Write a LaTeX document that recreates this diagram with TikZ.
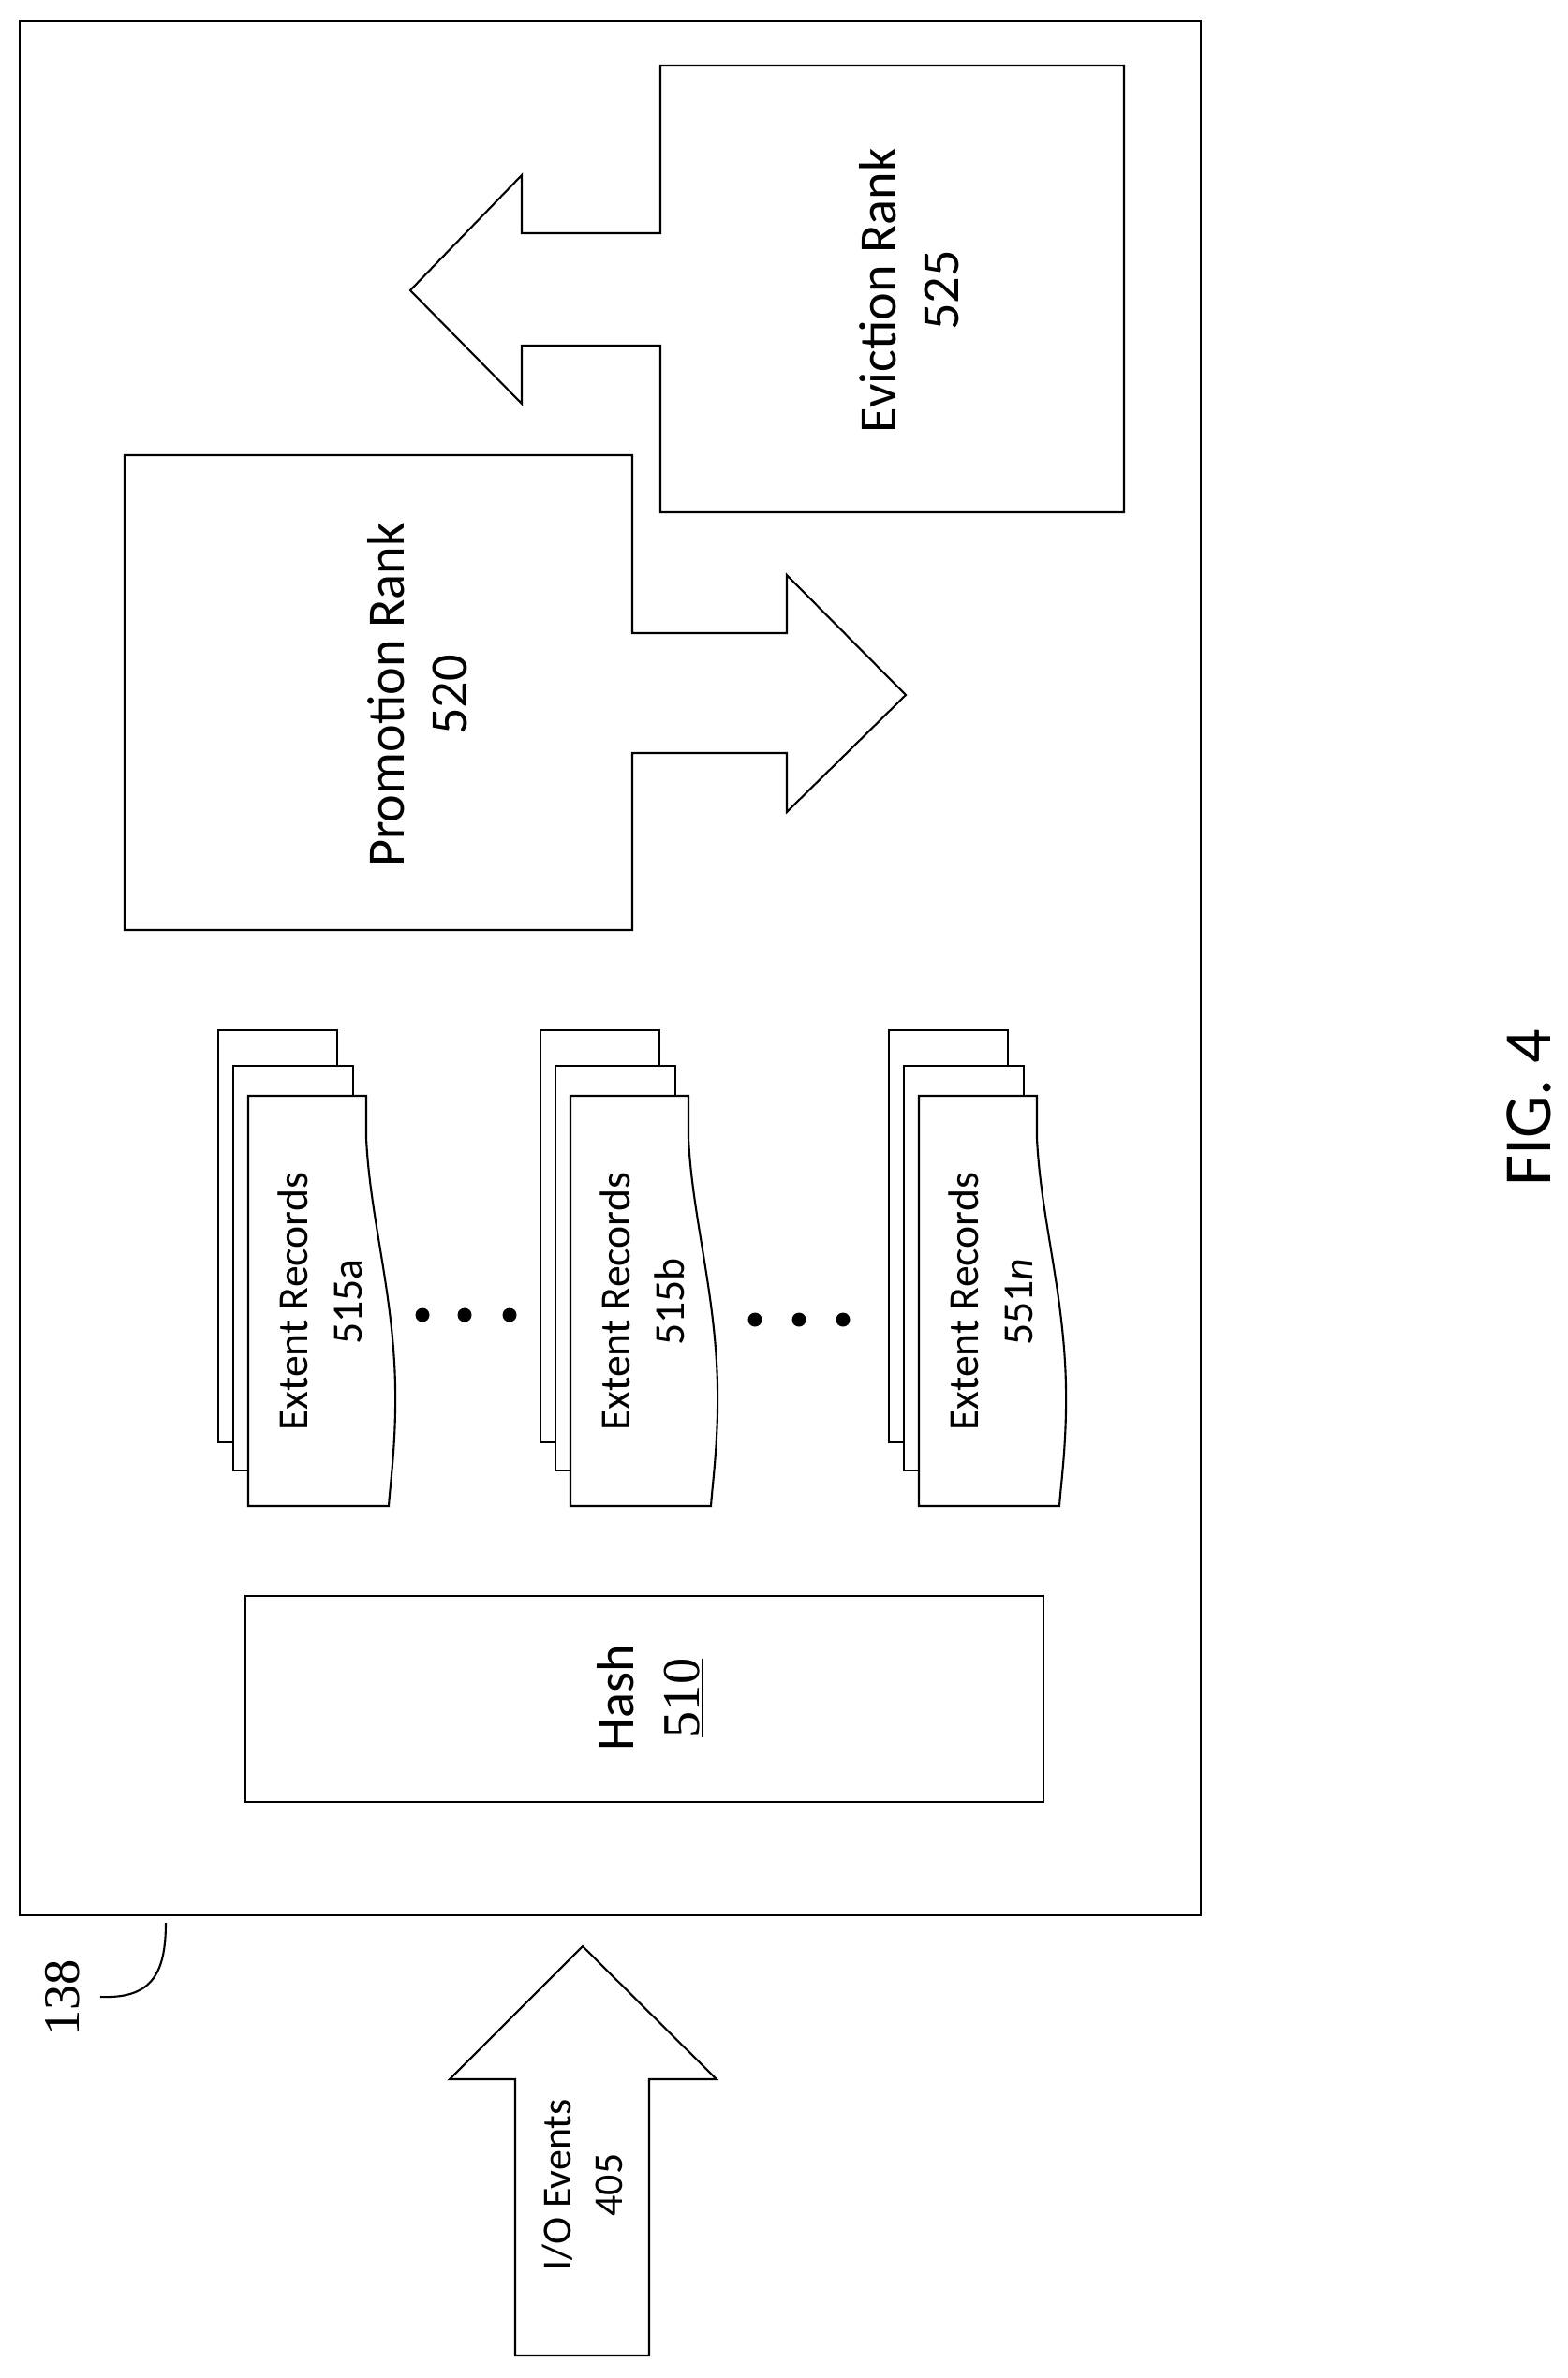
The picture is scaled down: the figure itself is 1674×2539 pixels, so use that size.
\documentclass[tikz,border=0pt]{standalone}
\usepackage{fontspec}
\setmainfont{Carlito}
\newfontfamily\serifnum{Liberation Serif}
\begin{document}
\begin{tikzpicture}[x=0.2mm,y=-0.2mm,
  ln/.style={draw=black,line width=1.2pt,fill=white,line join=miter},
  lbl/.style={rotate=90,align=center,inner sep=0pt},
  pics/stack/.style={code={
    \draw[ln] (-32,-70) rectangle (95,370);
    \draw[ln] (-16,-32) rectangle (112,400);
    \draw[ln] (0,0) -- (126,0) -- (126,45) .. controls (130,130) and (155,210) .. (157,310)
       .. controls (158,370) and (152,410) .. (150,438) -- (0,438) -- cycle;
  }}]
\useasboundingbox (0,0) rectangle (1674,2539);
% outer box
\draw[line width=1.1pt] (21,22) rectangle (1282,2045);
% eviction
\draw[ln] (705,70) -- (1200,70) -- (1200,547) -- (705,547) -- (705,369) -- (557,369) -- (557,431)
  -- (438,310) -- (557,187) -- (557,249) -- (705,249) -- cycle;
\node[lbl,font=\fontsize{32}{38}\selectfont] (evict) at (971,310) {Eviction Rank\\525};
% promotion
\draw[ln] (133,486) -- (675,486) -- (675,676) -- (840,676) -- (840,614) -- (967,742)
  -- (840,867) -- (840,804) -- (675,804) -- (675,993) -- (133,993) -- cycle;
\node[lbl,font=\fontsize{32}{38}\selectfont] (promo) at (446,742) {Promotion Rank\\520};
% stacks
\pic (s1) at (265,1170) {stack};
\pic (s2) at (609,1170) {stack};
\pic (s3) at (981,1170) {stack};
\node[lbl,font=\fontsize{26}{33}\selectfont] (t1) at (342,1390) {Extent Records\\515a};
\node[lbl,font=\fontsize{26}{33}\selectfont] (t2) at (686,1390) {Extent Records\\515b};
\node[lbl,font=\fontsize{26}{33}\selectfont] (t3) at (1058,1390) {Extent Records\\551\textit{n}};
\foreach \x/\yy in {451/1404,496/1404,544/1404,806/1409,853/1409,900/1409}
  \fill (\x,\yy) circle (7.5);
% hash
\draw[ln] (262,1704) rectangle (1114,1924);
\node[lbl,font=\fontsize{32}{40}\selectfont] (hash) at (694,1813) {Hash\\{\serifnum\underline{510}}};
% I/O events
\draw[ln] (550,2515) -- (550,2220) -- (480,2220) -- (622,2078) -- (765,2220) -- (693,2220) -- (693,2515) -- cycle;
\node[lbl,font=\fontsize{25}{31}\selectfont] (io) at (622,2333) {I/O Events\\405};
% 138
\node[lbl,font=\serifnum\fontsize{31}{31}\selectfont] (ref) at (67,2133) {138};
\coordinate (lead) at (177,2053);
\draw[line width=1.2pt] (107,2132) .. controls (160,2134) and (177,2110) .. (lead);
% fig
\node[lbl,font=\fontsize{41}{41}\selectfont] (fig) at (1632,1183) {FIG. 4};
\end{tikzpicture}
\end{document}
